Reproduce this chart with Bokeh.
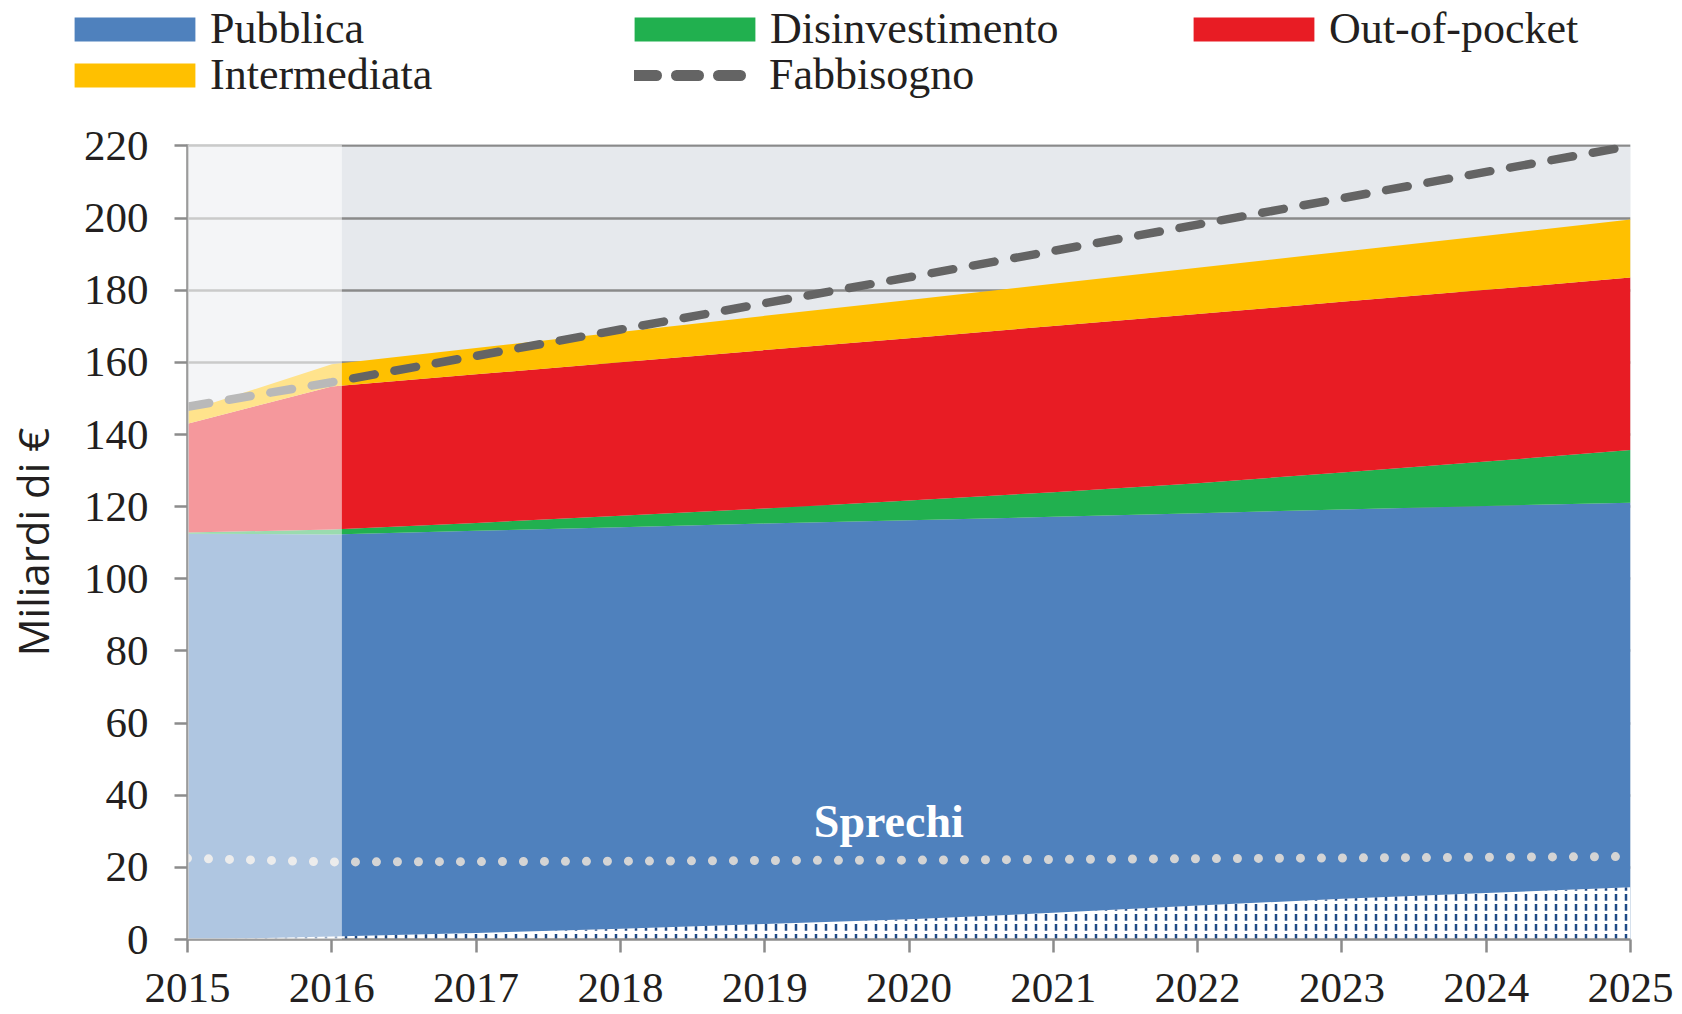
from bokeh.plotting import figure
from bokeh.layouts import column
from bokeh.models import (ColumnDataSource, Legend, LegendItem, BoxAnnotation, Label,
                          FixedTicker, Range1d)
from bokeh.embed import file_html
from bokeh.resources import INLINE

# ---------------- data ----------------
years = [2015, 2016, 2017, 2018, 2019, 2020, 2021, 2022, 2023, 2024, 2025]
pubblica = [112.5, 112.3, 113.3, 114.3, 115.3, 116.2, 117.2, 118.2, 119.2, 120.2, 121.1]
disinvestimento = [0.3, 1.4, 2.2, 3.2, 4.2, 5.5, 6.8, 8.3, 10.3, 12.3, 14.6]
out_of_pocket = [30.2, 39.6, 41.2, 42.5, 43.9, 45.0, 46.1, 46.9, 47.3, 47.6, 47.8]
intermediata = [3.5, 6.2, 7.3, 8.4, 9.5, 10.6, 11.7, 12.8, 13.9, 15.0, 16.1]
fabbisogno = [147.7, 154.5, 161.8, 169.1, 176.4, 183.6, 190.9, 198.2, 205.5, 212.8, 220.0]
sprechi_linea = [22.5, 21.5, 21.6, 21.7, 21.9, 22.0, 22.2, 22.4, 22.6, 22.8, 23.0]
sprechi_area = [0.0, 0.8, 1.8, 3.0, 4.3, 5.6, 7.4, 9.4, 11.3, 12.9, 14.5]
y_ticks = [0, 20, 40, 60, 80, 100, 120, 140, 160, 180, 200, 220]
storico_fine = 2016.07  # end of the shaded (historical) band

series_names = ["pubblica", "disinvestimento", "out_of_pocket", "intermediata"]
series_labels = ["Pubblica", "Disinvestimento", "Out-of-pocket", "Intermediata"]
series_colors = ["#4f81bd", "#21b04f", "#e81c24", "#ffc000"]
fab_color = "#646464"

src = ColumnDataSource(dict(
    x=years, pubblica=pubblica, disinvestimento=disinvestimento,
    out_of_pocket=out_of_pocket, intermediata=intermediata,
    fabbisogno=fabbisogno, sprechi_linea=sprechi_linea, sprechi_area=sprechi_area,
))

W = 1674
LEG_H = 104

# ---------------- main chart ----------------
p = figure(width=W, height=908, output_backend="svg", toolbar_location=None,
           x_range=Range1d(2015, 2025), y_range=Range1d(0, 220.4),
           min_border_left=182, min_border_right=44, min_border_top=40,
           min_border_bottom=73, background_fill_color="#e6e9ed",
           border_fill_color="white", outline_line_color=None)
p.frame_align = False

p.varea_stack(stackers=series_names, x="x", color=series_colors, source=src)

p.varea(x="x", y1=0, y2="sprechi_area", source=src, fill_color="white",
        hatch_pattern=":", hatch_color="#1f4a86", hatch_scale=10, hatch_weight=2.5)

p.line(x="x", y="sprechi_linea", source=src, line_color="#d4d4d4", line_width=9,
       line_dash="0 21", line_cap="round")

p.line(x="x", y="fabbisogno", source=src, line_color=fab_color, line_width=8.5,
       line_dash="22 20", line_cap="round")

p.add_layout(BoxAnnotation(left=2015, right=storico_fine, fill_color="white",
                           fill_alpha=0.55, line_color=None))

p.add_layout(Label(x=2019.86, y=32.6, text="Sprechi", text_color="white",
                   text_font="Liberation Serif", text_font_style="bold",
                   text_font_size="46px", text_align="center", text_baseline="middle"))

for ax in (p.xaxis[0], p.yaxis[0]):
    ax.axis_line_color = "#8c8c8c"
    ax.axis_line_width = 2.5
    ax.major_tick_line_color = "#8c8c8c"
    ax.major_tick_line_width = 2.5
    ax.major_tick_out = 13
    ax.major_tick_in = 0
    ax.minor_tick_line_color = None
    ax.major_label_text_font = "Liberation Serif"
    ax.major_label_text_font_size = "43px"
    ax.major_label_text_color = "#231f20"

p.xaxis.ticker = FixedTicker(ticks=years)
p.yaxis.ticker = FixedTicker(ticks=y_ticks)
p.xaxis.major_label_standoff = 21
p.yaxis.major_label_standoff = 26
p.yaxis.axis_label = "Miliardi di €"
p.yaxis.axis_label_text_font = "Open Sans"
p.yaxis.axis_label_text_font_style = "normal"
p.yaxis.axis_label_text_font_size = "42px"
p.yaxis.axis_label_text_color = "#231f20"
p.yaxis.axis_label_standoff = 20

p.xgrid.visible = False
p.ygrid.grid_line_color = "#8a8a8a"
p.ygrid.grid_line_width = 2.5

# ---------------- legend strip ----------------
# same series drawn in a strip whose ranges keep them out of view; only the legend shows
lf = figure(width=W, height=LEG_H, output_backend="svg", toolbar_location=None,
            x_range=Range1d(0, 1), y_range=Range1d(0, 1),
            x_axis_location=None, y_axis_location=None,
            min_border=0, outline_line_color=None)
lf.frame_align = False
lf.grid.visible = False

legend_renderers = list(lf.varea_stack(stackers=series_names, x="x",
                                       color=series_colors, source=src))
legend_renderers.append(lf.line(x="x", y="fabbisogno", source=src, line_color=fab_color,
                                line_width=11, line_dash="22 20", line_cap="round"))
legend_labels = series_labels + ["Fabbisogno"]
# bottom-left corner of each entry in the strip
legend_pos = [(59, 50), (619, 50), (1178, 50), (59, 4), (634, 4)]

for r, lab, loc in zip(legend_renderers, legend_labels, legend_pos):
    is_line = lab == "Fabbisogno"
    lg = Legend(items=[LegendItem(label=lab, renderers=[r])], location=loc,
                glyph_width=112 if is_line else 151, glyph_height=30,
                label_standoff=23 if is_line else 0, label_height=30,
                padding=0, margin=0, spacing=0,
                border_line_color=None, background_fill_alpha=0,
                label_text_font="Liberation Serif", label_text_font_size="44px",
                label_text_color="#231f20")
    lf.add_layout(lg)

open("out.html", "w").write(file_html(column(lf, p, spacing=0), INLINE))
